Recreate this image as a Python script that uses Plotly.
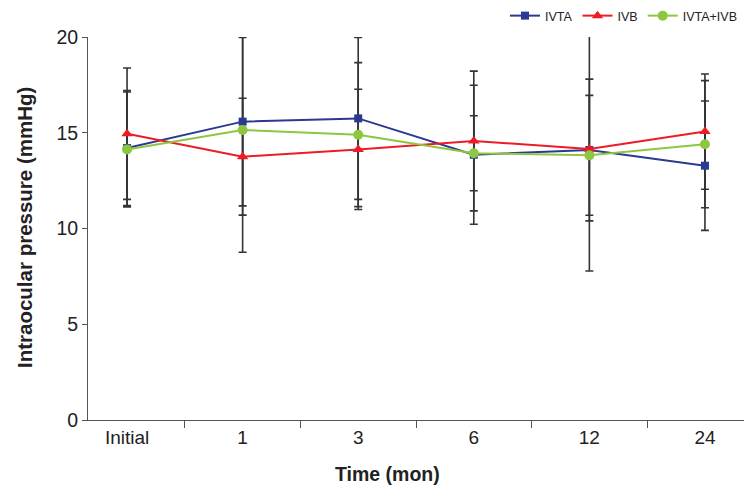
import plotly.graph_objects as go

categories = ["Initial", "1", "3", "6", "12", "24"]
ivta = [14.2, 15.58, 15.75, 13.85, 14.1, 13.28]
ivta_sd = [3.0, 4.4, 4.23, 3.63, 3.7, 3.38]
ivb = [14.95, 13.75, 14.13, 14.57, 14.15, 15.06]
ivb_sd = [3.43, 3.05, 3.14, 3.65, 6.37, 3.01]
combo = [14.13, 15.14, 14.9, 13.93, 13.82, 14.4]
combo_sd = [3.0, 6.38, 3.76, 1.96, 3.13, 3.32]

series = [
    ("IVTA", ivta, ivta_sd, "#2B3990", "square", 8),
    ("IVB", ivb, ivb_sd, "#ED1C24", "triangle-up", 10),
    ("IVTA+IVB", combo, combo_sd, "#8DC63F", "circle", 10),
]

fig = go.Figure()
for name, vals, sd, color, sym, size in series:
    fig.add_trace(go.Scatter(
        x=categories, y=vals, mode="markers", showlegend=False, hoverinfo="skip",
        marker=dict(size=1, opacity=0),
        error_y=dict(type="data", array=sd, visible=True, color="#333333",
                     thickness=1.6, width=4),
    ))
for name, vals, sd, color, sym, size in series:
    fig.add_trace(go.Scatter(
        x=categories, y=vals, mode="lines+markers", name=name,
        line=dict(color=color, width=2),
        marker=dict(color=color, symbol=sym, size=size),
    ))

# page body has an 8px offset; figure sized to fit the window
W, H = 744, 490
L, R, T, B = 80, 8, 29, 78
pw, ph = W - L - R, H - T - B


def px_to_paper(gx, gy):
    fx, fy = gx - 8, gy - 8
    return (fx - L) / pw, (H - B - fy) / ph


tx, ty = px_to_paper(387, 474)
yx, yy = px_to_paper(24, 228)

font_main = "Liberation Sans, Arial, Helvetica"
fig.update_layout(
    width=W, height=H,
    margin=dict(l=L, r=R, t=T, b=B, autoexpand=False),
    plot_bgcolor="white", paper_bgcolor="white",
    font=dict(family=font_main, color="#222222", size=19),
    legend=dict(orientation="h", xref="container", yref="container",
                x=(742 - 8) / W, xanchor="right", y=1 - (16 - 8) / H, yanchor="middle",
                font=dict(family=font_main, size=12.5, color="#222222"),
                tracegroupgap=0, bgcolor="rgba(0,0,0,0)"),
    showlegend=True,
    annotations=[
        dict(text="<b>Time (mon)</b>", xref="paper", yref="paper",
             x=tx, y=ty, xanchor="center", yanchor="middle", showarrow=False,
             font=dict(family=font_main, size=19.5, color="#222222")),
        dict(text="<b>Intraocular pressure (mmHg)</b>", xref="paper", yref="paper",
             x=yx, y=yy, textangle=-90,
             xanchor="center", yanchor="middle", showarrow=False,
             font=dict(family=font_main, size=20.5, color="#222222")),
    ],
)
fig.update_xaxes(
    type="category", tickson="boundaries", ticks="outside", ticklen=7,
    tickcolor="#555555", showline=True, linecolor="#555555", linewidth=1,
    showgrid=False, zeroline=False, automargin=False,
    tickfont=dict(family=font_main, size=19),
)
fig.update_yaxes(
    range=[0, 20], tickvals=[0, 5, 10, 15, 20], ticks="outside", ticklen=5,
    tickcolor="#555555", showline=True, linecolor="#555555", linewidth=1,
    showgrid=False, zeroline=False, automargin=False,
    tickfont=dict(family=font_main, size=19.5),
)

fig.write_html("out.html")
